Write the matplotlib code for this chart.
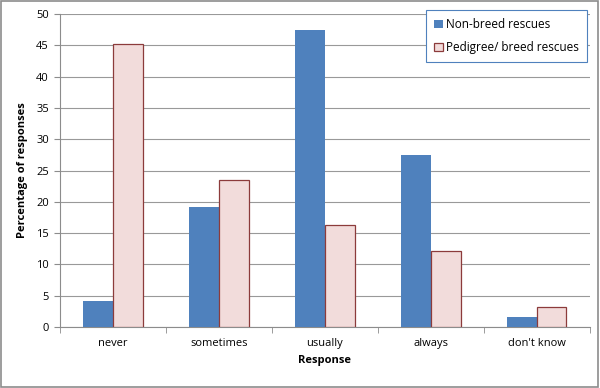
import matplotlib.pyplot as plt
import numpy as np
from matplotlib.patches import Rectangle

categories = ['never', 'sometimes', 'usually', 'always', "don't know"]
non_breed = [4.1, 19.2, 47.5, 27.5, 1.6]
pedigree = [45.2, 23.5, 16.3, 12.1, 3.2]

plt.rcParams['font.family'] = ['Open Sans', 'DejaVu Sans']

fig = plt.figure(figsize=(6, 3.88), dpi=100)
ax = fig.add_axes([0.1, 0.157, 0.883, 0.807])

x = np.arange(len(categories))
w = 0.28
ax.bar(x - w / 2, non_breed, w, color='#4F81BD', label='Non-breed rescues', zorder=3)
ax.bar(x + w / 2, pedigree, w, color='#F2DCDB', edgecolor='#8C3B3B', linewidth=0.9,
       label='Pedigree/ breed rescues', zorder=3)

ax.set_xlim(-0.5, len(categories) - 0.5)
ax.set_ylim(0, 50)
ax.set_yticks(range(0, 51, 5))
ax.yaxis.grid(True, color='#999999', linewidth=0.8, zorder=0)
ax.set_xticks(x)
ax.set_xticklabels(categories, fontsize=8)
ax.set_xticks(np.arange(-0.5, len(categories), 1), minor=True)
ax.tick_params(axis='x', which='major', length=0, pad=8)
ax.tick_params(axis='x', which='minor', length=4, color='#8C8C8C')
ax.tick_params(axis='y', labelsize=8, length=4, color='#8C8C8C', pad=4)

for s in ['top', 'right']:
    ax.spines[s].set_visible(False)
for s in ['left', 'bottom']:
    ax.spines[s].set_color('#8C8C8C')

ax.set_xlabel('Response', fontsize=8, fontweight='bold', labelpad=4)
ax.set_ylabel('Percentage of responses', fontsize=8, fontweight='bold', labelpad=6)

leg = ax.legend(loc='upper right', bbox_to_anchor=(1.0, 1.02), fontsize=8.5, frameon=True,
                fancybox=False, handlelength=0.7, handleheight=0.7, handletextpad=0.3,
                borderpad=0.7, labelspacing=0.8, borderaxespad=0.2)
leg.get_frame().set_edgecolor('#4F81BD')
leg.get_frame().set_linewidth(0.8)
leg.get_frame().set_alpha(1)

fig.patches.append(Rectangle((0.002, 0.003), 0.995, 0.994, transform=fig.transFigure,
                             fill=False, edgecolor='#8C8C8C', linewidth=1.2))

fig.savefig('out.png', dpi=100)
